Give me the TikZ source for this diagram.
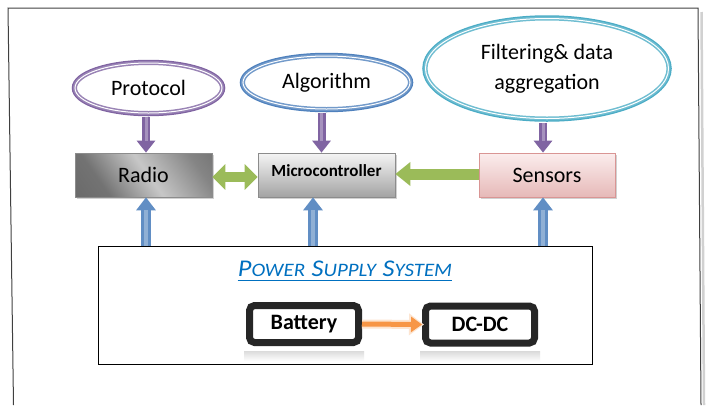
\documentclass[tikz,border=0pt]{standalone}
\usepackage{fontspec}
\setmainfont{Carlito}
\usetikzlibrary{shapes.geometric,arrows.meta,shadows,calc}
\definecolor{opurple}{HTML}{8064A2}
\definecolor{oblue}{HTML}{4F81BD}
\definecolor{oteal}{HTML}{4BACC6}
\definecolor{ogreen}{HTML}{9BBB59}
\definecolor{oorange}{HTML}{F79646}
\definecolor{titleblue}{HTML}{0070C0}
\definecolor{pinkb}{HTML}{D99594}
\definecolor{pinktop}{HTML}{FBEDED}
\definecolor{pinkbot}{HTML}{E6B9B8}
\pgfdeclarehorizontalshading{radioshade}{100bp}{color(0bp)=(black!62); color(30bp)=(black!55); color(52bp)=(black!22); color(75bp)=(black!48); color(100bp)=(black!62)}
\newcommand\tbig[1]{{\fontsize{24}{28}\selectfont #1}}
\newcommand\tsml[1]{{\fontsize{19}{28}\selectfont #1}}
\tikzset{
  ell/.style={ellipse, line width=1.5pt, double=white, double distance=1pt, fill=white,
    preaction={draw=#1, line width=6.5pt}, draw=#1!80,
    font=\fontsize{22}{30}\selectfont, inner sep=1pt, align=center},
  box/.style={rectangle, minimum width=137pt, minimum height=44pt, line width=0.7pt,
    font=\fontsize{22}{26}\selectfont,
    drop shadow={shadow xshift=2pt, shadow yshift=-2pt, opacity=0.3, fill=black!60}},
  pbox/.style={rectangle, draw=black!85, line width=7pt, rounded corners=5pt, fill=white,
    minimum width=109pt, minimum height=37pt, font=\bfseries\fontsize{22}{26}\selectfont},
  parrow/.style={opurple, line width=8pt, -{Triangle[width=18pt,length=12pt]},
    postaction={draw=white, opacity=0.3, line width=3pt, -, shorten >=12pt}},
  barrow/.style={oblue!90, line width=10pt, -{Triangle[width=19pt,length=13pt]},
    postaction={draw=white, opacity=0.3, line width=3.5pt, -, shorten >=13pt}},
  garrow/.style={ogreen, line width=10pt},
  oarrow/.style={oorange, line width=5pt, -{Triangle[width=15pt,length=11pt]}},
  oglow/.style={oorange!25, line width=9pt, -{Triangle[width=21pt,length=15pt]}},
}
\begin{document}
\begin{tikzpicture}[x=1pt,y=-1pt]
\useasboundingbox (0,0) rectangle (706,405);
% page frame
\draw[black!18, line width=2.5pt] (701.5,12) -- (704,405);
\draw[black!75, line width=1pt] (13.5,405) -- (8,8) -- (698,8) -- (701,405);

% power supply box
\node[draw, line width=0.8pt, fill=white, minimum width=494pt, minimum height=118pt] (power) at (345,305) {};
\node[anchor=base, inner sep=0pt, text=titleblue, font=\itshape] (title) at (345,276)
  {\scalebox{1.1}[1]{\tbig{P}\tsml{OWER}\hspace{6pt}\tbig{S}\tsml{UPPLY}\hspace{6pt}\tbig{S}\tsml{YSTEM}}};
\draw[titleblue, line width=1.3pt] ([yshift=-4.5pt]title.base west) -- ([yshift=-4.5pt]title.base east);

% battery / dc-dc
\node[pbox] (batt) at (304,324) {Battery};
\node[pbox] (dcdc) at (480,324.5) {DC-DC};
\shade[top color=black!14, bottom color=white] ([xshift=-2pt,yshift=-5pt]batt.south west) rectangle ([xshift=2pt,yshift=-15pt]batt.south east);
\shade[top color=black!14, bottom color=white] ([xshift=-2pt,yshift=-5pt]dcdc.south west) rectangle ([xshift=2pt,yshift=-15pt]dcdc.south east);

% ellipses
\node[ell=opurple, minimum width=147pt, minimum height=50pt] (proto) at (148.5,88) {Protocol};
\node[ell=oblue, minimum width=167pt, minimum height=53pt] (alg) at (326.5,82.5) {Algorithm};
\node[ell=oteal, minimum width=243pt, minimum height=100pt] (filt) at (547,68.5) {Filtering\& data\\aggregation};

% blocks
\node[box, draw=black!45, shading=radioshade, shading angle=35] (radio) at (143.5,175) {Radio};
\node[box, draw=black!45, top color=black!4, bottom color=black!36, text depth=9pt,
  font=\bfseries\fontsize{17}{20}\selectfont] (micro) at (326.5,175) {Microcontroller};
\node[box, draw=pinkb, top color=pinktop, bottom color=pinkbot, minimum width=136pt] (sens) at (547,175) {Sensors};

% purple arrows
\draw[parrow] ([xshift=-2.5pt,yshift=-3.5pt]proto.south) -- ([xshift=-2.5pt]proto.south |- radio.north);
\draw[parrow] ([xshift=-5pt,yshift=-3.5pt]alg.south) -- ([xshift=-5pt]alg.south |- micro.north);
\draw[parrow] ([xshift=-4pt,yshift=-3.5pt]filt.south) -- ([xshift=-4pt]filt.south |- sens.north);

% blue arrows
\draw[barrow] ([xshift=2.5pt]radio.south |- power.north) -- ([xshift=2.5pt]radio.south);
\draw[barrow] ([xshift=-13.5pt]micro.south |- power.north) -- ([xshift=-13.5pt]micro.south);
\draw[barrow] ([xshift=-4pt]sens.south |- power.north) -- ([xshift=-4pt]sens.south);

% green arrows
\draw[garrow, {Triangle[width=25pt,length=13pt]}-{Triangle[width=25pt,length=13pt]}] ([yshift=-2pt]radio.east) -- ([yshift=-2pt]micro.west);
\draw[garrow, line width=11pt, -{Triangle[width=23pt,length=15pt]}] ([yshift=1pt]sens.west) -- ([yshift=1pt]micro.east);

% orange arrow
\draw[oglow] (batt.east) -- ([xshift=2pt]dcdc.west);
\draw[oarrow] (batt.east) -- (dcdc.west);
\end{tikzpicture}
\end{document}
